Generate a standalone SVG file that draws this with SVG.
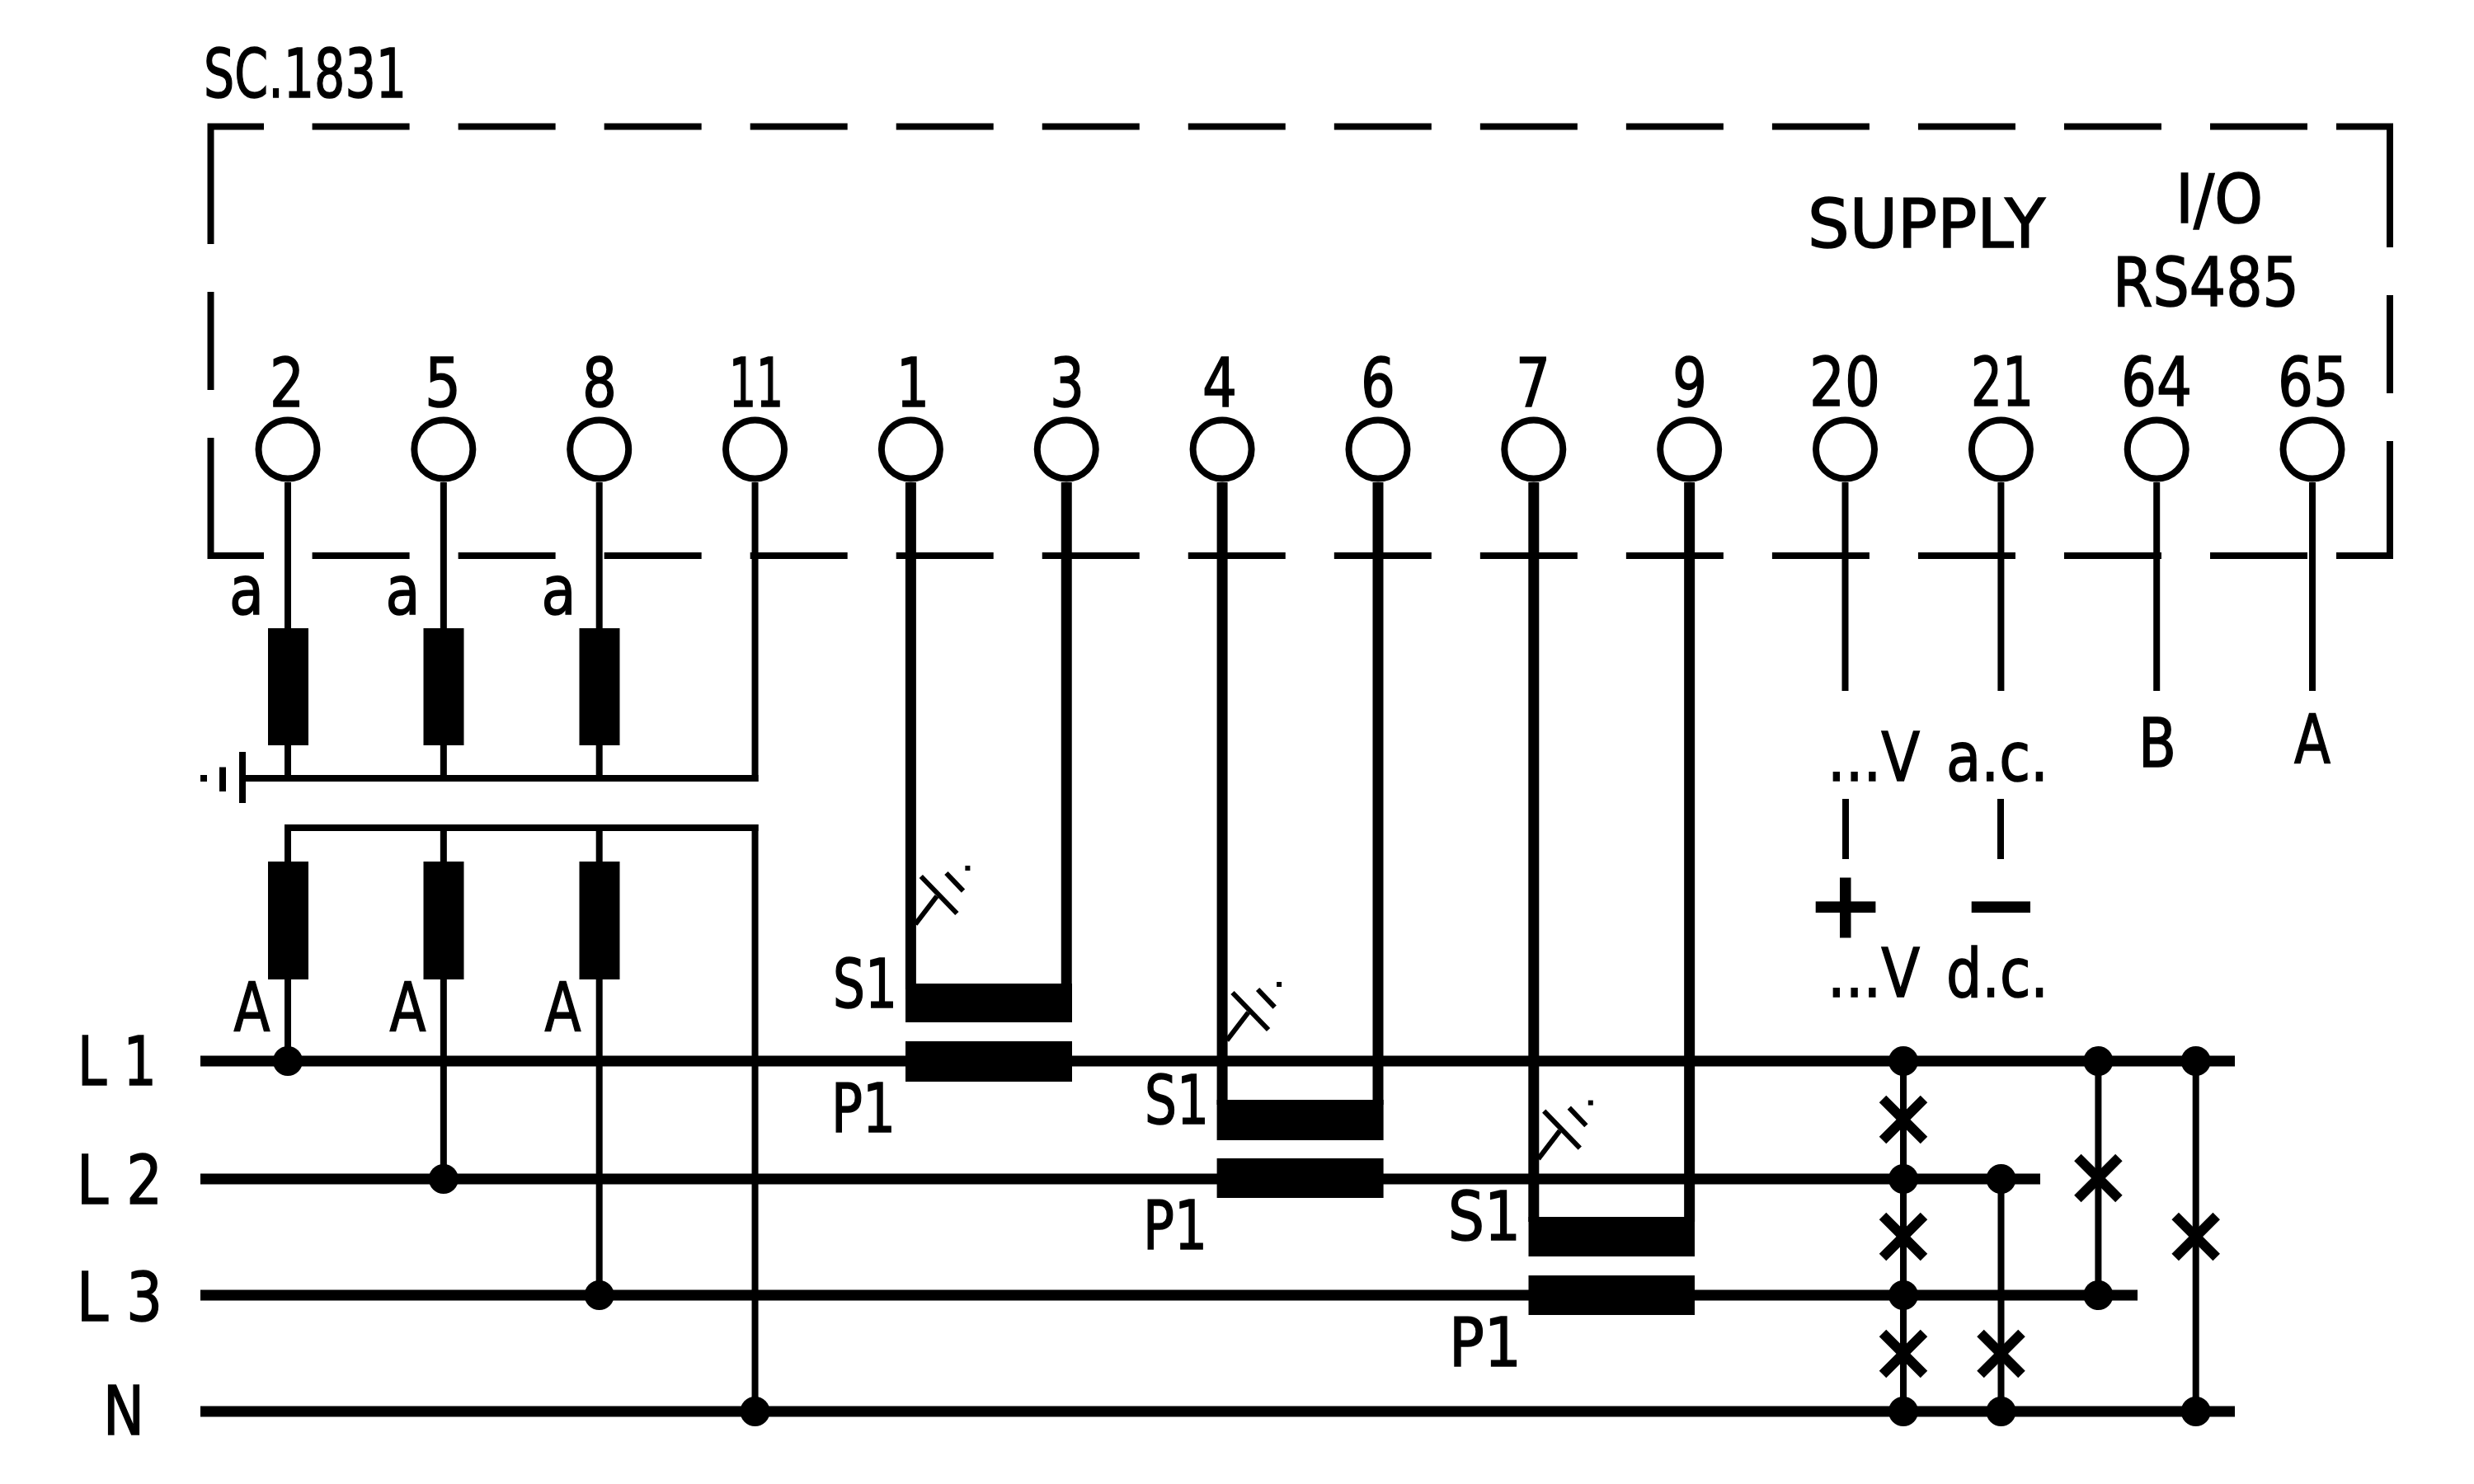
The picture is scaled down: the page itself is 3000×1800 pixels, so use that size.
<svg xmlns="http://www.w3.org/2000/svg" width="3000" height="1800" viewBox="0 0 3000 1800">
<style>
text{font-family:"DejaVu Sans","Liberation Sans",sans-serif;font-size:82px;fill:#000;text-anchor:middle;stroke:#000;stroke-width:1.6}
line,path,circle{fill:none;stroke:#000}
.w8{stroke-width:8}
.w13{stroke-width:13}
.bus{stroke-width:13}
.x{stroke-width:12}
.tick{stroke-width:6}
circle.t{fill:#fff;stroke-width:8}
circle.d{fill:#000;stroke:none}
rect{fill:#000}
</style>
<defs>
<g id="cross"><line class="x" x1="-25" y1="-25" x2="25" y2="25"/><line class="x" x1="25" y1="-25" x2="-25" y2="25"/></g>
<g id="tick"><path class="tick" d="M1110 1121 L1136 1087"/><path class="tick" d="M1116.8 1063 L1160.4 1108"/><path class="tick" d="M1147.4 1059 L1168 1080.6"/><rect x="1170.4" y="1050" width="6" height="6"/></g>
</defs>
<rect width="3000" height="1800" style="fill:#fff"/>
<g id="enclosure">
<path class="w8" d="M255.5 296V153.5H320M255.5 531V674H320M2833 153.5H2898V300M2898 535V674H2833"/>
<line class="w8" x1="255.5" y1="354" x2="255.5" y2="473"/>
<line class="w8" x1="2898" y1="358" x2="2898" y2="477"/>
<line class="w8" x1="378.6" y1="153.5" x2="2798" y2="153.5" stroke-dasharray="118 59.03"/>
<line class="w8" x1="378.6" y1="674" x2="2798" y2="674" stroke-dasharray="118 59.03"/>
<text x="370" y="118" textLength="246" lengthAdjust="spacingAndGlyphs">SC.1831</text>
<text x="2336" y="300" textLength="288" lengthAdjust="spacingAndGlyphs">SUPPLY</text>
<text x="2691" y="270" textLength="106" lengthAdjust="spacingAndGlyphs">I/O</text>
<text x="2675" y="371" textLength="226" lengthAdjust="spacingAndGlyphs">RS485</text>
</g>
<g id="connectors">
<g id="wires">
<line class="w8" x1="349" y1="585" x2="349" y2="944"/>
<line class="w8" x1="537.85" y1="585" x2="537.85" y2="944"/>
<line class="w8" x1="726.7" y1="585" x2="726.7" y2="944"/>
<line class="w8" x1="915.55" y1="585" x2="915.55" y2="948"/>
<line class="w8" x1="349" y1="1000" x2="349" y2="1287"/>
<line class="w8" x1="537.85" y1="1004" x2="537.85" y2="1430"/>
<line class="w8" x1="726.7" y1="1004" x2="726.7" y2="1571"/>
<line class="w8" x1="915.55" y1="1000" x2="915.55" y2="1712"/>
<line class="w8" x1="294" y1="944" x2="919.5" y2="944"/>
<line class="w8" x1="345" y1="1004" x2="919.5" y2="1004"/>
<line class="w13" x1="1104.4" y1="585" x2="1104.4" y2="1200"/>
<line class="w13" x1="1293.25" y1="585" x2="1293.25" y2="1200"/>
<line class="w13" x1="1482.1" y1="585" x2="1482.1" y2="1340"/>
<line class="w13" x1="1671" y1="585" x2="1671" y2="1340"/>
<line class="w13" x1="1859.8" y1="585" x2="1859.8" y2="1482"/>
<line class="w13" x1="2048.65" y1="585" x2="2048.65" y2="1482"/>
<line class="w8" x1="2237.5" y1="585" x2="2237.5" y2="838"/>
<line class="w8" x1="2426.4" y1="585" x2="2426.4" y2="838"/>
<line class="w8" x1="2615.2" y1="585" x2="2615.2" y2="838"/>
<line class="w8" x1="2804" y1="585" x2="2804" y2="838"/>
<line class="bus" x1="243" y1="1287" x2="2710" y2="1287"/>
<line class="bus" x1="243" y1="1430" x2="2474" y2="1430"/>
<line class="bus" x1="243" y1="1571" x2="2592" y2="1571"/>
<line class="bus" x1="243" y1="1712" x2="2710" y2="1712"/>
<line class="w8" x1="2308" y1="1287" x2="2308" y2="1712"/>
<line class="w8" x1="2426.5" y1="1430" x2="2426.5" y2="1712"/>
<line class="w8" x1="2544.4" y1="1287" x2="2544.4" y2="1571"/>
<line class="w8" x1="2662.7" y1="1287" x2="2662.7" y2="1712"/>
</g>
<g id="junctions">
<circle class="d" cx="349" cy="1287" r="18"/>
<circle class="d" cx="537.85" cy="1430" r="18"/>
<circle class="d" cx="726.7" cy="1571" r="18"/>
<circle class="d" cx="915.55" cy="1712" r="18"/>
<circle class="d" cx="2308" cy="1287" r="18"/>
<circle class="d" cx="2308" cy="1430" r="18"/>
<circle class="d" cx="2308" cy="1571" r="18"/>
<circle class="d" cx="2308" cy="1712" r="18"/>
<circle class="d" cx="2426.5" cy="1430" r="18"/>
<circle class="d" cx="2426.5" cy="1712" r="18"/>
<circle class="d" cx="2544.4" cy="1287" r="18"/>
<circle class="d" cx="2544.4" cy="1571" r="18"/>
<circle class="d" cx="2662.7" cy="1287" r="18"/>
<circle class="d" cx="2662.7" cy="1712" r="18"/>
</g>
<g id="fuses">
<use href="#cross" x="2308" y="1358"/>
<use href="#cross" x="2308" y="1500"/>
<use href="#cross" x="2308" y="1642"/>
<use href="#cross" x="2426.5" y="1642"/>
<use href="#cross" x="2544.4" y="1429"/>
<use href="#cross" x="2662.7" y="1500"/>
</g>
</g>
<g id="terminals">
<g id="t2"><circle class="t" cx="349" cy="545" r="35.5"/><text x="348" y="493" textLength="42" lengthAdjust="spacingAndGlyphs">2</text></g>
<g id="t5"><circle class="t" cx="537.85" cy="545" r="35.5"/><text x="537" y="493" textLength="44" lengthAdjust="spacingAndGlyphs">5</text></g>
<g id="t8"><circle class="t" cx="726.7" cy="545" r="35.5"/><text x="727" y="493" textLength="42" lengthAdjust="spacingAndGlyphs">8</text></g>
<g id="t11"><circle class="t" cx="915.55" cy="545" r="35.5"/><text x="917" y="493" textLength="66" lengthAdjust="spacingAndGlyphs">11</text></g>
<g id="t1"><circle class="t" cx="1104.4" cy="545" r="35.5"/><text x="1107" y="493" textLength="40" lengthAdjust="spacingAndGlyphs">1</text></g>
<g id="t3"><circle class="t" cx="1293.25" cy="545" r="35.5"/><text x="1294" y="493" textLength="42" lengthAdjust="spacingAndGlyphs">3</text></g>
<g id="t4"><circle class="t" cx="1482.1" cy="545" r="35.5"/><text x="1479" y="493" textLength="42" lengthAdjust="spacingAndGlyphs">4</text></g>
<g id="t6"><circle class="t" cx="1671" cy="545" r="35.5"/><text x="1671" y="493" textLength="42" lengthAdjust="spacingAndGlyphs">6</text></g>
<g id="t7"><circle class="t" cx="1859.8" cy="545" r="35.5"/><text x="1859" y="493" textLength="42" lengthAdjust="spacingAndGlyphs">7</text></g>
<g id="t9"><circle class="t" cx="2048.65" cy="545" r="35.5"/><text x="2049" y="493" textLength="42" lengthAdjust="spacingAndGlyphs">9</text></g>
<g id="t20"><circle class="t" cx="2237.5" cy="545" r="35.5"/><text x="2237" y="492" textLength="86" lengthAdjust="spacingAndGlyphs">20</text></g>
<g id="t21"><circle class="t" cx="2426.4" cy="545" r="35.5"/><text x="2428" y="492" textLength="76" lengthAdjust="spacingAndGlyphs">21</text></g>
<g id="t64"><circle class="t" cx="2615.2" cy="545" r="35.5"/><text x="2615" y="492" textLength="86" lengthAdjust="spacingAndGlyphs">64</text></g>
<g id="t65"><circle class="t" cx="2804" cy="545" r="35.5"/><text x="2805" y="492" textLength="86" lengthAdjust="spacingAndGlyphs">65</text></g>
</g>
<g id="vt1"><rect x="325" y="762" width="49" height="142"/><rect x="325" y="1045" width="49" height="143"/><text x="299" y="745" textLength="42" lengthAdjust="spacingAndGlyphs">a</text><text x="305.5" y="1250" textLength="44" lengthAdjust="spacingAndGlyphs">A</text></g>
<g id="vt2"><rect x="513.5" y="762" width="49" height="142"/><rect x="513.5" y="1045" width="49" height="143"/><text x="488.5" y="745" textLength="42" lengthAdjust="spacingAndGlyphs">a</text><text x="494.5" y="1250" textLength="44" lengthAdjust="spacingAndGlyphs">A</text></g>
<g id="vt3"><rect x="702.5" y="762" width="49" height="142"/><rect x="702.5" y="1045" width="49" height="143"/><text x="677.5" y="745" textLength="42" lengthAdjust="spacingAndGlyphs">a</text><text x="682.5" y="1250" textLength="44" lengthAdjust="spacingAndGlyphs">A</text></g>
<g id="earth">
<line class="w8" x1="294" y1="912" x2="294" y2="974"/>
<line class="w8" x1="270" y1="930.5" x2="270" y2="960"/>
<rect x="243" y="940" width="8" height="8"/>
</g>
<g id="ct1">
<rect x="1098" y="1193" width="202" height="47"/><rect x="1098" y="1263" width="202" height="49"/>
<use href="#tick"/>
<text x="1049" y="1222" textLength="78" lengthAdjust="spacingAndGlyphs">S1</text>
<text x="1047" y="1373" textLength="78" lengthAdjust="spacingAndGlyphs">P1</text>
</g>
<g id="ct2">
<rect x="1475.6" y="1334" width="202" height="49"/><rect x="1475.6" y="1405" width="202" height="48"/>
<use href="#tick" x="377.7" y="141"/>
<text x="1427" y="1363" textLength="78" lengthAdjust="spacingAndGlyphs">S1</text>
<text x="1425" y="1515" textLength="78" lengthAdjust="spacingAndGlyphs">P1</text>
</g>
<g id="ct3">
<rect x="1853.5" y="1476" width="201.5" height="48"/><rect x="1853.5" y="1547" width="201.5" height="48"/>
<use href="#tick" x="755.4" y="284.6"/>
<text x="1800" y="1504" textLength="88" lengthAdjust="spacingAndGlyphs">S1</text>
<text x="1801" y="1657" textLength="88" lengthAdjust="spacingAndGlyphs">P1</text>
</g>
<g id="phases">
<text x="142" y="1316" textLength="96" lengthAdjust="spacingAndGlyphs">L 1</text>
<text x="145" y="1460" textLength="104" lengthAdjust="spacingAndGlyphs">L 2</text>
<text x="145" y="1602" textLength="104" lengthAdjust="spacingAndGlyphs">L 3</text>
<text x="150" y="1740" textLength="50" lengthAdjust="spacingAndGlyphs">N</text>
</g>
<g id="supply">
<text x="2272" y="947" textLength="112" lengthAdjust="spacingAndGlyphs">...V</text>
<text x="2422" y="947" textLength="124" lengthAdjust="spacingAndGlyphs">a.c.</text>
<line class="w8" x1="2238" y1="969" x2="2238" y2="1042"/>
<line class="w8" x1="2426" y1="969" x2="2426" y2="1042"/>
<rect x="2201.7" y="1093.4" width="72.7" height="13.6"/>
<rect x="2231" y="1064.5" width="13.5" height="73"/>
<rect x="2390.7" y="1093.4" width="71.3" height="13.6"/>
<text x="2272" y="1209" textLength="112" lengthAdjust="spacingAndGlyphs">...V</text>
<text x="2422" y="1209" textLength="124" lengthAdjust="spacingAndGlyphs">d.c.</text>
</g>
<g id="rs485">
<text x="2616" y="930" textLength="46" lengthAdjust="spacingAndGlyphs">B</text>
<text x="2804" y="925" textLength="44" lengthAdjust="spacingAndGlyphs">A</text>
</g>
</svg>
